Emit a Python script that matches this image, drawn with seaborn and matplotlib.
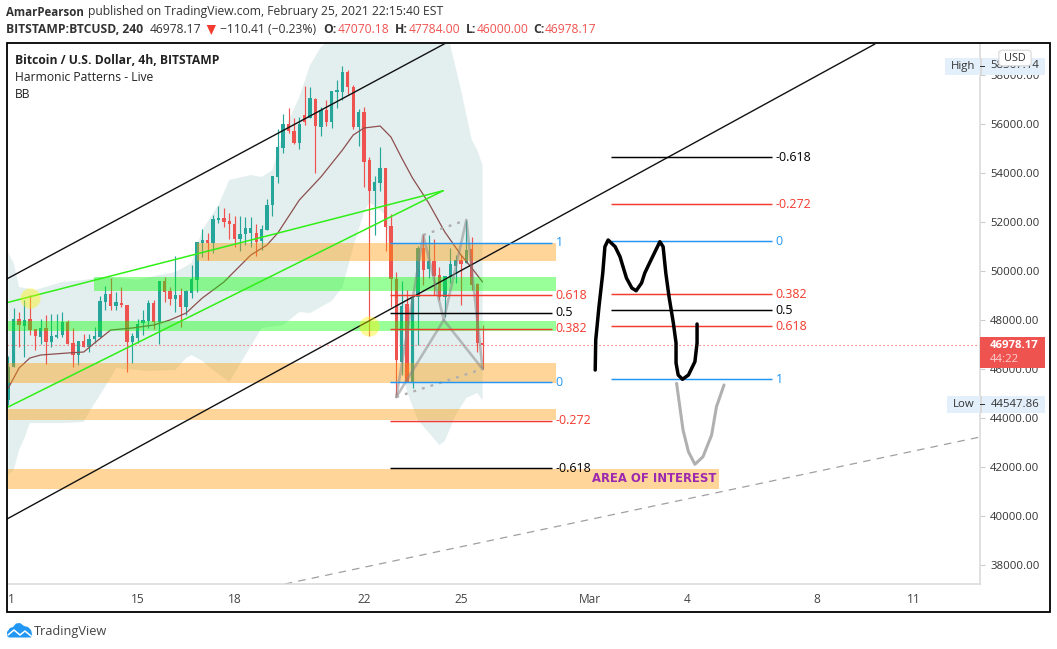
import matplotlib
matplotlib.use("Agg")
import matplotlib.pyplot as plt
from matplotlib.patches import Rectangle, FancyBboxPatch, Polygon
import numpy as np
import seaborn as sns

W, H = 1057, 649
FONT = "Open Sans"

opens = [44740,46095,48040,47760,48040,47635,47310,47675,47115,47310,47390,47920,47060,46560,47145,46885,47225,47310,48735,49060,48570,48695,48615,47100,47265,47890,47960,48695,47920,49590,49200,48860,49020,48520,49115,49630,
 51133,51269,51160,52085,52167,52030,51922,51323,51514,51541,51568,51242,51677,52711,53853,55023,56002,55730,55240,56369,56233,57035,55893,56573,56097,57321,57321,58123,
 57497,55865,56477,54532,53267,53607,54206,51839,49661,46275,48655,45486,48927,50953,50083,50409,49824,48954,49770,50205,50450,50341,50899,49471,47070]
closes = [46095,48040,47800,48000,47595,47360,47675,47115,47350,47390,47920,47020,46590,47145,46885,47225,47350,48790,49060,48570,48735,48625,47100,47350,47840,48000,48695,47920,49590,49160,48860,49020,48520,49200,49670,51170,
 51269,51160,52126,52167,51990,51922,51296,51514,51759,51759,51201,51718,52697,53894,55077,56002,55730,55213,56002,56097,57076,55934,56573,56097,57362,57389,58123,57498,
 55865,56504,54464,53267,53634,54219,51812,49661,46370,48573,45486,48927,50953,50042,50409,49797,48927,49797,50287,50450,50287,50858,49430,47050,46978]
highs = [46530,48475,48340,48815,49020,47635,48030,48205,48245,48245,48310,48000,47660,47145,47430,47430,47730,48990,49400,49730,49160,49360,48615,47460,48030,48410,48815,48815,49590,49740,49360,50610,49290,49225,50245,51170,
 51704,51541,52289,52656,52561,52384,52248,52248,52194,52221,51922,51881,52928,53894,55784,56410,56641,56233,56301,57552,57498,57076,56709,56981,57362,57797,58382,58205,
 57592,56613,56681,54668,53879,55049,54206,52329,49974,49593,49226,48954,51021,51497,51470,51293,50178,49797,50926,50654,50654,52082,51402,49525,47784]
lows = [44548,46095,46910,46505,47390,46775,47020,46205,46910,47250,47320,47020,46095,46165,46885,46710,47050,47295,48410,48410,48410,48545,45890,46230,47050,47390,47660,47620,47020,48750,48615,48340,47730,48205,48885,49160,
 50589,50453,50725,51949,51813,51296,50997,50834,51065,50990,50616,50861,51677,52248,53581,54805,55621,55186,54995,55961,56233,53989,55512,55920,55852,56641,56981,57226,
 55783,55103,53444,47350,51472,53267,50819,48546,44874,45758,45486,45214,46982,49430,49702,49022,48818,48138,49525,49525,48614,50341,49226,46710,46000]

bb_upper_bars = [0,1,2,5,10,14,17,20,24,28,31,34,36,39,41,45,47,49,51,54,56,58,60,66,72,78,81,82,84,86,87,88]
bb_upper = [50735,50327,49347,49225,49551,49633,49755,49714,49633,49837,49959,50327,51673,52694,53714,53918,53837,54122,55633,57102,58408,59143,59510,59918,60163,60082,59714,59224,57388,55347,54939,54327]
bb_lower_bars = [0,1,2,3,4,10,14,15,17,19,20,26,31,33,34,36,38,41,44,47,51,54,56,60,62,64,66,67,70,71,72,73,74,76,80,81,83,85,87,88]
bb_lower = [41674,41878,42694,43184,43796,43796,43837,44245,44939,45633,46041,45918,45959,46449,46571,46327,45959,45469,46571,47673,47796,48327,48286,48776,49347,50980,52367,52816,52286,50367,48000,46163,45061,43918,42898,43062,44122,44816,45020,44735]
bb_basis_bars = [0,2,4,6,11,14,16,19,23,27,30,33,36,40,45,48,50,54,58,62,64,66,69,71,73,75,78,81,84,86,88]
bb_basis = [45224,46041,46449,46571,46653,46694,47061,47592,47673,47796,48000,48286,48898,49551,50653,51061,51551,52898,53837,54939,55551,55837,55918,55469,54612,53796,52776,51592,50653,50122,49551]

tick_bars = [0,24,42,66,84,108,126,150,168]
tick_labels = ["1","15","18","22","25","Mar","4","8","11"]
price_ticks = [38000,40000,42000,44000,46000,48000,50000,52000,54000,56000,58000]

# zones: bar start, bar end, price low, price high
orange_starts = [35,-0.3,-0.3,-0.3]
orange_ends = [101.7,101.7,101.7,131.9]
orange_lows = [50408,45441,43918,41102]
orange_highs = [51143,46245,44367,41918]
green_starts = [15.9,-0.3]
green_ends = [101.7,101.7]
green_lows = [49184,47551]
green_highs = [49743,47959]

channel_a_x = [-0.3,81.2];  channel_a_y = [49673,59306]
channel_b_x = [-0.24,160.8]; channel_b_y = [39878,59265]
dash_x = [51.3,180.3]; dash_y = [37225,43225]
wedge_a_x = [-0.3,80.7]; wedge_a_y = [48706,53278]
wedge_b_x = [-0.3,80.7]; wedge_b_y = [44421,53278]

pattern_x = [72,77,80.8,85,88]
pattern_y = [44857,51469,48000,52082,46000]

fib_left_labels = ["1","0.618","0.5","0.382","0","-0.272","-0.618"]
fib_left_levels = [51155,49008,48306,47653,45457,43898,41959]
fib_left_colors = ["#2196F3","#F23A2E","#000000","#F23A2E","#2196F3","#F23A2E","#000000"]
fib_left_span = [70.8,100.9]
fib_right_labels = ["-0.618","-0.272","0","0.382","0.5","0.618","1"]
fib_right_levels = [54641,52722,51212,49049,48396,47743,45580]
fib_right_colors = ["#000000","#F23A2E","#2196F3","#F23A2E","#000000","#F23A2E","#2196F3"]
fib_right_span = [111.8,141.7]

stroke_black_x = [108.9,109.0,109.6,110.3,110.7,111.3,112.6,113.5,114.7,115.7,116.5,117.5,118.1,119.1,120.0,120.9,121.5,122.0,122.6,123.4,123.9,123.9,124.3,125.1,126.2,127.4,127.8,127.8]
stroke_black_y = [45959,47184,48543,49906,50992,51265,50992,50584,49714,49306,49196,49510,49918,50380,50788,51196,50992,49918,48951,47878,47061,46245,45755,45580,45755,46298,47061,47837]
stroke_gray_x = [124.0,124.6,125.2,126.2,127.4,128.9,130.5,131.4,132.8]
stroke_gray_y = [45416,44461,43510,42624,42110,42420,43306,44461,45347]

circle_x = [4.08,67]
circle_y = [48898,47767]

last_price = 46978.17

sns.set_theme(style="white", rc={"font.family": FONT})
GREEN, RED = "#26A69A", "#EF5350"

fig = plt.figure(figsize=(W/100, H/100), dpi=100, facecolor="white")
L, R, T, B = 7, 980, 43.5, 584
ax = fig.add_axes([L/W, 1-B/H, (R-L)/W, (B-T)/H])
ax.set_xlim(-0.241, 180.3)
ax.set_ylim(37225, 59286)
ax.set_facecolor("white")
for s in ["left", "top"]:
    ax.spines[s].set_visible(False)
for s in ["right", "bottom"]:
    ax.spines[s].set_color("#D9D9D9")
    ax.spines[s].set_linewidth(1.1)

# Bollinger fill
ax.fill(list(bb_upper_bars)+bb_lower_bars[::-1], list(bb_upper)+bb_lower[::-1], color="#E3EFEE", lw=0, zorder=1)

# candles
idx = np.arange(len(opens))
o, c = np.array(opens), np.array(closes)
colors = [GREEN if cc >= oo else RED for oo, cc in zip(o, c)]
ax.vlines(idx, lows, highs, colors=colors, lw=0.85, zorder=2)
ax.bar(idx, np.maximum(np.abs(c-o), 40), bottom=np.minimum(o, c), width=0.62, color=colors, lw=0, zorder=2)

sns.lineplot(x=bb_basis_bars, y=bb_basis, ax=ax, color="#8D4F4F", lw=0.9, zorder=2.5, estimator=None, sort=False)

# zones
for x0, x1, y0, y1 in zip(orange_starts, orange_ends, orange_lows, orange_highs):
    ax.add_patch(Rectangle((x0, y0), x1-x0, y1-y0, fc="#FF9800", alpha=0.4, lw=0, zorder=3))
for x0, x1, y0, y1 in zip(green_starts, green_ends, green_lows, green_highs):
    ax.add_patch(Rectangle((x0, y0), x1-x0, y1-y0, fc="#00FF00", alpha=0.4, lw=0, zorder=3))

# trend lines
for xs, ys in [(channel_a_x, channel_a_y), (channel_b_x, channel_b_y)]:
    sns.lineplot(x=xs, y=ys, ax=ax, color="#111111", lw=1.0, zorder=4, estimator=None, sort=False)
for xs, ys in [(wedge_a_x, wedge_a_y), (wedge_b_x, wedge_b_y)]:
    sns.lineplot(x=xs, y=ys, ax=ax, color="#2FEF17", lw=1.1, zorder=4, estimator=None, sort=False)
ax.plot(dash_x, dash_y, color="#A0A0A0", lw=0.9, dashes=(6, 5), zorder=2)

# price line
ax.axhline(last_price, color=RED, lw=0.8, dashes=(1, 2.6), zorder=2)

# harmonic pattern
hp = dict(color="#858585", alpha=0.5, lw=1.9, zorder=4, solid_capstyle="round")
ax.plot(pattern_x, pattern_y, **hp)
ax.plot([pattern_x[0], pattern_x[2], pattern_x[4]], [pattern_y[0], pattern_y[2], pattern_y[4]], **hp)
dot = dict(color="#AFAFAF", lw=1.7, dashes=(1.2, 2.6), zorder=4)
ax.plot([pattern_x[0], pattern_x[4]], [pattern_y[0], pattern_y[4]], **dot)
ax.plot([pattern_x[1], pattern_x[3]], [pattern_y[1], pattern_y[3]], **dot)

# fib tools
for labels, levels, cols, span in [(fib_left_labels, fib_left_levels, fib_left_colors, fib_left_span),
                                   (fib_right_labels, fib_right_levels, fib_right_colors, fib_right_span)]:
    for lab, lev, col in zip(labels, levels, cols):
        ax.hlines(lev, span[0], span[1], color=col, lw=1.05, zorder=4.5)
        ax.text(span[1]+0.7, lev, lab, color=col, va="center", ha="left",
                fontsize=8.9, zorder=5, family=FONT)

# hand strokes
sns.lineplot(x=stroke_black_x, y=stroke_black_y, ax=ax, color="black", lw=2.5, zorder=5, estimator=None, sort=False,
             solid_joinstyle="round", solid_capstyle="round")
sns.lineplot(x=stroke_gray_x, y=stroke_gray_y, ax=ax, color="#B0B0B0", lw=2.2, zorder=5, estimator=None, sort=False,
             solid_joinstyle="round", solid_capstyle="round")

# circles
ax.scatter(circle_x, circle_y, s=210, color="#FFF200", alpha=0.4, lw=0, zorder=4)

ax.text(108.3, 41551, "AREA OF INTEREST", color="#9C27B0", fontsize=8.4, fontweight="bold",
        family="DejaVu Sans", va="center", ha="left", zorder=6)

# axes ticks
ax.yaxis.tick_right()
ax.set_yticks(price_ticks)
ax.set_yticklabels([f"{p:.2f}" for p in price_ticks], fontsize=8.2, color="#333333")
ax.set_xticks(tick_bars)
xl = ax.set_xticklabels(tick_labels, fontsize=8.6, color="#444444")
xl[0].set_ha("left")
ax.tick_params(axis="y", length=3.6, width=0.8, color="#CCCCCC", pad=3.6)
ax.tick_params(axis="x", length=3.6, width=0.8, color="#CCCCCC", pad=3.0)
ax.set_xlabel(""); ax.set_ylabel("")
ax.grid(False)

def ft(x, y, s, **kw):
    kw.setdefault("va", "center"); kw.setdefault("ha", "left")
    kw.setdefault("family", FONT); kw.setdefault("fontsize", 8.75); kw.setdefault("color", "#333333")
    kw.setdefault("zorder", 10)
    fig.text(x/W, 1-y/H, s, **kw)

def box(x0, y0, x1, y1, **kw):
    fig.add_artist(Rectangle((x0/W, 1-y1/H), (x1-x0)/W, (y1-y0)/H, transform=fig.transFigure, **kw))

# frame
box(6.7, 43.3, 1050, 612.3, fc="none", ec="black", lw=1.3, zorder=4)

# header
ft(6, 12, "AmarPearson", fontweight="bold", fontsize=8.3)
ft(88, 12, "published on TradingView.com, February 25, 2021 22:15:40 EST")
ft(6, 29.5, "BITSTAMP:BTCUSD, 240", fontweight="bold")
ft(150, 29.5, "46978.17")
fig.add_artist(Polygon([[206.7/W, 1-25/H], [216/W, 1-25/H], [211.3/W, 1-35/H]], transform=fig.transFigure, fc="#F23A2E", lw=0, zorder=10))
ft(220, 29.5, "\u2212110.41 (\u22120.23%)")
for xl_, lab, xv, val in [(323.3, "O:", 337.3, "47070.18"), (395, "H:", 408.3, "47784.00"),
                          (465.7, "L:", 476.7, "46000.00"), (533.3, "C:", 545, "46978.17")]:
    ft(xl_, 29.5, lab, fontweight="bold")
    ft(xv, 29.5, val, color="#EF5350")

# legend
ft(15, 60.5, "Bitcoin / U.S. Dollar, 4h, BITSTAMP", fontweight="bold", color="#222222")
ft(15, 77.5, "Harmonic Patterns - Live", color="#222222")
ft(15, 94.5, "BB", color="#222222")

# price tags
box(945, 58, 1045, 75, fc="#E3F0FB", lw=0, zorder=5)
ft(951, 66, "High", fontsize=8.2, zorder=6)
box(980, 58, 982, 75, fc="#D9D9D9", lw=0, zorder=6)
box(980, 66, 985, 67, fc="#333333", lw=0, zorder=6)
ft(990.5, 66, "58367.14", fontsize=8.2, zorder=6)
fig.add_artist(FancyBboxPatch((1001/W, 1-64.5/H), 28/W, 13/H, transform=fig.transFigure,
               boxstyle="round,pad=0.002,rounding_size=0.004", fc="white", ec="#D8D8D8", lw=0.8, zorder=7))
ft(1015, 58.5, "USD", fontsize=7.8, ha="center", zorder=8)

box(947, 396, 1045, 413, fc="#E3F0FB", lw=0, zorder=5)
ft(953, 404.5, "Low", fontsize=8.2, zorder=6)
box(980, 396, 982, 413, fc="#D9D9D9", lw=0, zorder=6)
box(980, 404, 985, 405, fc="#333333", lw=0, zorder=6)
ft(990.5, 404.5, "44547.86", fontsize=8.2, zorder=6)

box(980, 337, 1045, 367.5, fc="#EF5350", lw=0, zorder=5)
ft(990, 345.5, "46978.17", fontsize=8.2, fontweight="bold", color="white", zorder=6)
ft(990, 360, "44:22", fontsize=8.2, color="#FBD0CF", zorder=6)

# logo
fig.add_artist(Polygon([[p[0]/W, 1-p[1]/H] for p in [(7,636),(7,632),(10,628),(13,627),(16,623.5),(20,623),(24,626),(28,627),(31,630),(32,634),(31,637.5),(9,637.5)]],
               transform=fig.transFigure, fc="#2196F3", lw=0, zorder=9))
fig.add_artist(plt.Line2D([x/W for x in [8,14,20,25,31]], [1-y/H for y in [635,630,635,631,636]],
               transform=fig.transFigure, color="white", lw=1.1, zorder=10))
ft(34, 631, "TradingView", fontsize=9.2, color="#444444")

fig.savefig("out.png", dpi=100, facecolor="white")
